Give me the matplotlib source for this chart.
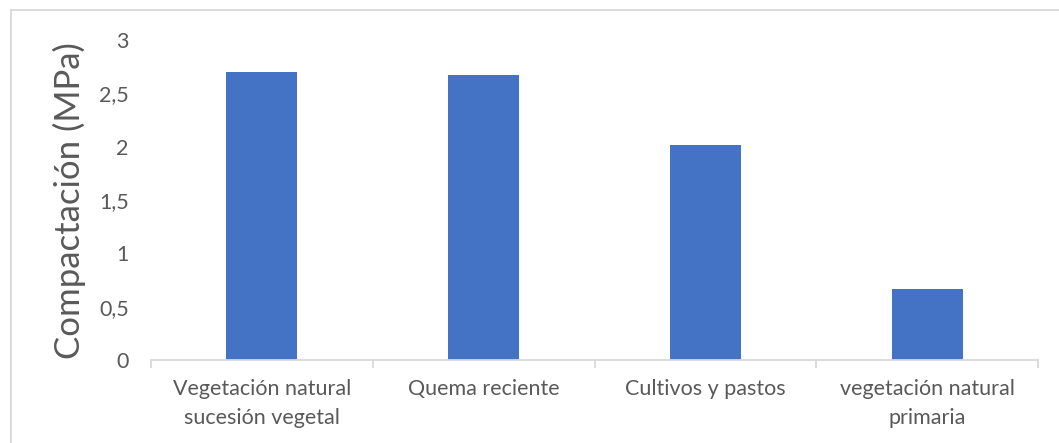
import matplotlib
matplotlib.use("Agg")
import matplotlib.pyplot as plt
from matplotlib.lines import Line2D

categories = ["Vegetación natural\nsucesión vegetal", "Quema reciente",
              "Cultivos y pastos", "vegetación natural\nprimaria"]
values = [2.70, 2.67, 2.02, 0.67]
yticks = [0, 0.5, 1, 1.5, 2, 2.5, 3]
ytick_labels = ["0", "0,5", "1", "1,5", "2", "2,5", "3"]

plt.rcParams["font.family"] = ["Lato", "DejaVu Sans"]

W, H = 1059, 443
fig = plt.figure(figsize=(W / 100, H / 100), dpi=100)
fig.patch.set_facecolor("white")

# plot area in pixels: x 151..1038, y 40..360 (top to bottom)
ax = fig.add_axes([151 / W, 1 - 360 / H, (1038 - 151) / W, (360 - 40) / H])
x = range(len(categories))
ax.bar(x, values, width=0.32, color="#4472C4", zorder=2)
ax.set_xlim(-0.5, len(categories) - 0.5)
ax.set_ylim(0, 3)

ax.set_yticks(yticks)
ax.set_yticklabels(ytick_labels)
ax.set_xticks(list(x))
ax.set_xticklabels(categories, linespacing=1.55)
ax.set_xticks([i - 0.5 for i in range(len(categories) + 1)], minor=True)

for s in ["top", "right", "left"]:
    ax.spines[s].set_visible(False)
ax.spines["bottom"].set_color("#D9D9D9")
ax.spines["bottom"].set_linewidth(1.3)

ax.tick_params(axis="y", length=0, pad=16, labelsize=15.5, labelcolor="#595959")
ax.tick_params(axis="x", which="major", length=0, pad=14, labelsize=15.5,
               labelcolor="#595959")
ax.tick_params(axis="x", which="minor", length=6, width=1.3, color="#D9D9D9")

fig.text(69 / W, 1 - 201 / H, "Compactación (MPa)", rotation=90, ha="center",
         va="center", fontsize=25, color="#595959")

# chart border (left and top visible)
fig.add_artist(Line2D([11 / W, 11 / W], [0, 1 - 10 / H], color="#D9D9D9",
                      lw=1.3, transform=fig.transFigure))
fig.add_artist(Line2D([11 / W, 1], [1 - 10 / H, 1 - 10 / H], color="#D9D9D9",
                      lw=1.3, transform=fig.transFigure))

fig.savefig("out.png", dpi=100, facecolor="white")
